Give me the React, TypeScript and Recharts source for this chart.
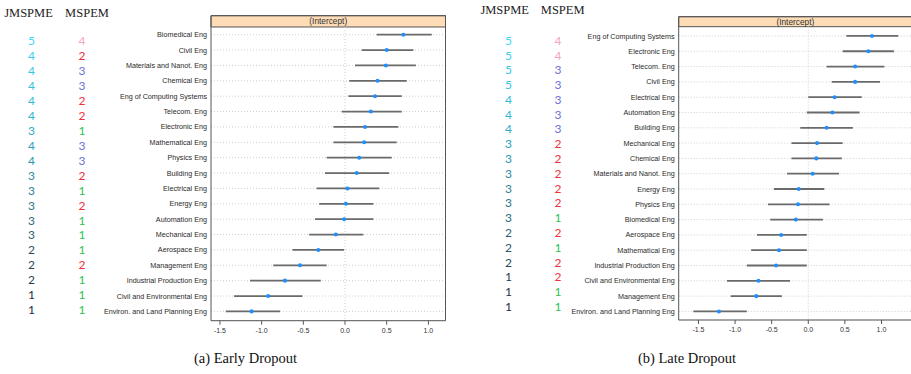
import React from 'react';
import {
  ComposedChart,
  Scatter,
  ErrorBar,
  XAxis,
  YAxis,
  ZAxis,
  CartesianGrid,
  ReferenceArea,
  ReferenceLine,
} from 'recharts';

// ---------- (a) Early Dropout ----------
const earlyNames = [
  'Biomedical Eng', 'Civil Eng', 'Materials and Nanot. Eng', 'Chemical Eng',
  'Eng of Computing Systems', 'Telecom. Eng', 'Electronic Eng', 'Mathematical Eng',
  'Physics Eng', 'Building Eng', 'Electrical Eng', 'Energy Eng', 'Automation Eng',
  'Mechanical Eng', 'Aerospace Eng', 'Management Eng', 'Industrial Production Eng',
  'Civil and Environmental Eng', 'Environ. and Land Planning Eng',
];
const earlyEst = [0.70, 0.50, 0.49, 0.39, 0.36, 0.31, 0.24, 0.23, 0.17, 0.14, 0.03, 0.01, -0.01, -0.11, -0.32, -0.54, -0.72, -0.92, -1.12];
const earlyLo = [0.38, 0.20, 0.12, 0.05, 0.04, -0.04, -0.14, -0.14, -0.22, -0.24, -0.34, -0.31, -0.36, -0.43, -0.63, -0.86, -1.14, -1.33, -1.43];
const earlyHi = [1.04, 0.82, 0.85, 0.74, 0.68, 0.68, 0.64, 0.62, 0.56, 0.53, 0.41, 0.34, 0.34, 0.22, -0.01, -0.22, -0.29, -0.51, -0.78];
const earlyJMSPME = [5, 4, 4, 4, 4, 4, 3, 4, 4, 3, 3, 3, 3, 3, 2, 2, 2, 1, 1];
const earlyMSPEM = [4, 2, 3, 3, 2, 2, 1, 3, 3, 2, 1, 2, 1, 1, 1, 2, 1, 1, 1];

// ---------- (b) Late Dropout ----------
const lateNames = [
  'Eng of Computing Systems', 'Electronic Eng', 'Telecom. Eng', 'Civil Eng',
  'Electrical Eng', 'Automation Eng', 'Building Eng', 'Mechanical Eng', 'Chemical Eng',
  'Materials and Nanot. Eng', 'Energy Eng', 'Physics Eng', 'Biomedical Eng',
  'Aerospace Eng', 'Mathematical Eng', 'Industrial Production Eng',
  'Civil and Environmental Eng', 'Management Eng', 'Environ. and Land Planning Eng',
];
const lateEst = [0.87, 0.82, 0.64, 0.64, 0.36, 0.33, 0.25, 0.12, 0.11, 0.06, -0.13, -0.14, -0.17, -0.37, -0.40, -0.44, -0.68, -0.71, -1.22];
const lateLo = [0.52, 0.47, 0.25, 0.32, 0.0, -0.02, -0.11, -0.23, -0.23, -0.29, -0.47, -0.55, -0.52, -0.70, -0.78, -0.84, -1.11, -1.06, -1.57];
const lateHi = [1.23, 1.17, 1.04, 0.98, 0.73, 0.70, 0.61, 0.47, 0.46, 0.42, 0.22, 0.29, 0.20, -0.02, -0.02, -0.02, -0.25, -0.36, -0.84];
const lateJMSPME = [5, 5, 5, 5, 4, 4, 4, 3, 3, 3, 3, 3, 3, 2, 2, 2, 1, 1, 1];
const lateMSPEM = [4, 4, 3, 3, 3, 3, 3, 2, 2, 2, 2, 2, 1, 2, 1, 2, 2, 1, 1];

const xTicks = [-1.5, -1.0, -0.5, 0.0, 0.5, 1.0];
const stripLabel = '(Intercept)';
const headerJ = 'JMSPME';
const headerM = 'MSPEM';
const captionA = '(a) Early Dropout';
const captionB = '(b) Late Dropout';

const mspemColor: Record<number, string> = {
  4: '#f5a6c0',
  3: '#6f6fd8',
  2: '#f0303e',
  1: '#2fbf4f',
};

const gradStops: [number, number[]][] = [
  [0, [64, 214, 246]],
  [0.3, [46, 178, 206]],
  [0.55, [46, 128, 150]],
  [0.8, [44, 78, 94]],
  [1, [30, 38, 70]],
];
function jColor(t: number): string {
  for (let k = 1; k < gradStops.length; k++) {
    const [t1, c1] = gradStops[k];
    const [t0, c0] = gradStops[k - 1];
    if (t <= t1) {
      const f = (t - t0) / (t1 - t0);
      const c = c0.map((v, j) => Math.round(v + (c1[j] - v) * f));
      return `rgb(${c[0]},${c[1]},${c[2]})`;
    }
  }
  return 'rgb(30,38,70)';
}

const SANS = '"Liberation Sans", Arial, sans-serif';
const SERIF = '"Liberation Serif", "Times New Roman", serif';

type PanelProps = {
  names: string[];
  est: number[];
  lo: number[];
  hi: number[];
  width: number;
  height: number;
  yAxisWidth: number;
  marginTop: number;
  marginRight: number;
  marginBottom: number;
  xDomain: [number, number];
  yDomain: [number, number];
  stripBottom: number;
};

function Panel(p: PanelProps) {
  const data = p.names.map((n, i) => ({
    y: i,
    x: p.est[i],
    err: [p.est[i] - p.lo[i], p.hi[i] - p.est[i]],
  }));
  const rowTicks = p.names.map((_, i) => i);
  return (
    <ComposedChart
      width={p.width}
      height={p.height}
      data={data}
      margin={{ top: p.marginTop, right: p.marginRight, bottom: p.marginBottom, left: 0 }}
    >
      <CartesianGrid vertical={false} stroke="#cfcfcf" strokeDasharray="1 2" />
      <XAxis
        type="number"
        dataKey="x"
        domain={p.xDomain}
        allowDataOverflow
        ticks={xTicks}
        interval={0}
        tickFormatter={(v: number) => v.toFixed(1)}
        axisLine={false}
        tickLine={{ stroke: '#555' }}
        tickSize={4}
        tickMargin={3}
        height={24}
        tick={{ fontSize: 7, fill: '#333', fontFamily: SANS }}
      />
      <XAxis
        xAxisId="t"
        orientation="top"
        type="number"
        dataKey="x"
        domain={p.xDomain}
        allowDataOverflow
        ticks={xTicks}
        interval={0}
        axisLine={false}
        tickLine={{ stroke: '#555' }}
        tickSize={4}
        tick={false}
        height={0}
      />
      <YAxis
        type="number"
        dataKey="y"
        reversed
        domain={p.yDomain}
        allowDataOverflow
        ticks={rowTicks}
        interval={0}
        tickFormatter={(v: number) => p.names[v] ?? ''}
        axisLine={false}
        tickLine={false}
        tickSize={0}
        tickMargin={4}
        width={p.yAxisWidth}
        tick={{ fontSize: 7.2, fill: '#2a2a2a', fontFamily: SANS }}
      />
      <ZAxis range={[13, 13]} />
      <ReferenceLine
        segment={[
          { x: 0, y: p.stripBottom },
          { x: 0, y: p.yDomain[1] },
        ]}
        stroke="#cfcfcf"
        strokeDasharray="1 2"
      />
      <ReferenceArea
        y1={p.yDomain[0]}
        y2={p.stripBottom}
        fill="#fddcb6"
        fillOpacity={1}
        stroke="#555"
        strokeWidth={1}
        ifOverflow="visible"
        label={{ value: stripLabel, position: 'center', fontSize: 8.3, fill: '#333', fontFamily: SANS }}
      />
      <ReferenceArea
        y1={p.yDomain[0]}
        y2={p.yDomain[1]}
        fill="none"
        stroke="#555"
        strokeWidth={1}
        ifOverflow="visible"
      />
      <Scatter dataKey="x" fill="#1f8fff" isAnimationActive={false}>
        <ErrorBar dataKey="err" direction="x" width={0} stroke="#6a6a6a" strokeWidth={1.8} isAnimationActive={false} />
      </Scatter>
    </ComposedChart>
  );
}

function NumberColumns(props: {
  j: number[];
  m: number[];
  jx: number;
  mx: number;
  y0: number;
  dy: number;
  hx1: number;
  hx2: number;
  hy: number;
}) {
  const { j, m, jx, mx, y0, dy, hx1, hx2, hy } = props;
  const n = j.length;
  return (
    <g>
      <text x={hx1} y={hy} textAnchor="middle" dominantBaseline="central" fontFamily={SERIF} fontSize={12.5} fill="#222">
        {headerJ}
      </text>
      <text x={hx2} y={hy} textAnchor="middle" dominantBaseline="central" fontFamily={SERIF} fontSize={12.5} fill="#222">
        {headerM}
      </text>
      {j.map((v, i) => (
        <text
          key={'j' + i}
          x={jx}
          y={y0 + i * dy}
          textAnchor="middle"
          dominantBaseline="central"
          fontFamily='Lato, "Open Sans", sans-serif'
          fontSize={12}
          fill={jColor(i / (n - 1))}
        >
          {v}
        </text>
      ))}
      {m.map((v, i) => (
        <text
          key={'m' + i}
          x={mx}
          y={y0 + i * dy}
          textAnchor="middle"
          dominantBaseline="central"
          fontFamily='Lato, "Open Sans", sans-serif'
          fontSize={12}
          fill={mspemColor[v]}
        >
          {v}
        </text>
      ))}
    </g>
  );
}

export default function App() {
  return (
    <div
      style={{
        position: 'absolute',
        left: 0,
        top: 0,
        width: 911,
        height: 374,
        overflow: 'hidden',
        background: '#fff',
      }}
    >
      <svg width={911} height={374} style={{ position: 'absolute', left: 0, top: 0 }}>
        <NumberColumns j={earlyJMSPME} m={earlyMSPEM} jx={31.5} mx={82} y0={40.5} dy={14.96} hx1={28.5} hx2={87} hy={12.5} />
        <NumberColumns j={lateJMSPME} m={lateMSPEM} jx={508.5} mx={558} y0={40.3} dy={14.78} hx1={504.7} hx2={562.7} hy={10} />
        <text x={245.5} y={363} textAnchor="middle" fontFamily={SERIF} fontSize={14.5} fill="#111">
          {captionA}
        </text>
        <text x={687} y={363} textAnchor="middle" fontFamily={SERIF} fontSize={14.5} fill="#111">
          {captionB}
        </text>
      </svg>
      <div style={{ position: 'absolute', left: 0, top: 0 }}>
        <Panel
          names={earlyNames}
          est={earlyEst}
          lo={earlyLo}
          hi={earlyHi}
          width={460}
          height={345}
          yAxisWidth={211}
          marginTop={15.7}
          marginRight={14.5}
          marginBottom={0.3}
          xDomain={[-1.607, 1.205]}
          yDomain={[-1.236, 18.605]}
          stripBottom={-0.501}
        />
      </div>
      <div style={{ position: 'absolute', left: 460, top: 0 }}>
        <Panel
          names={lateNames}
          est={lateEst}
          lo={lateLo}
          hi={lateHi}
          width={455}
          height={345}
          yAxisWidth={218.7}
          marginTop={16.7}
          marginRight={3}
          marginBottom={1}
          xDomain={[-1.77, 1.417]}
          yDomain={[-1.259, 18.56]}
          stripBottom={-0.607}
        />
      </div>
    </div>
  );
}
